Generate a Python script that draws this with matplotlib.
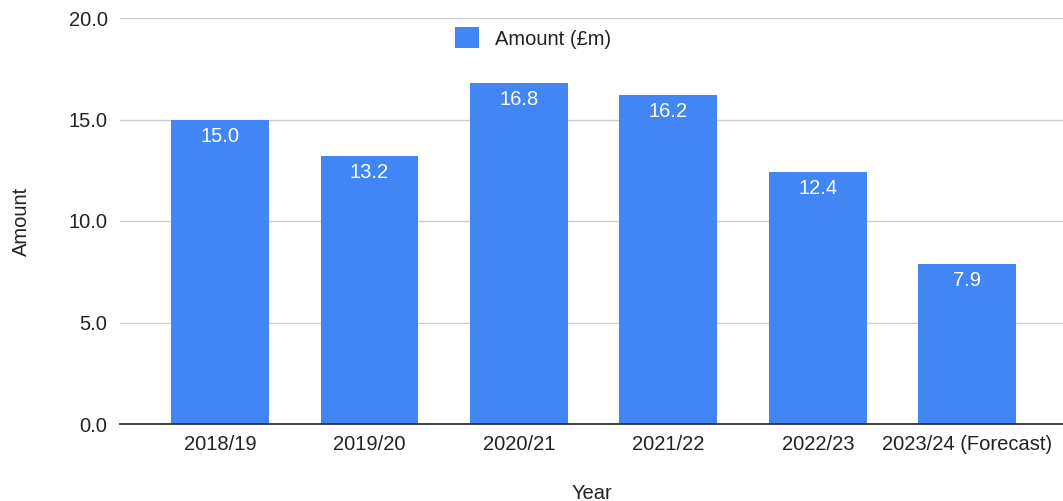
import matplotlib.pyplot as plt

plt.rcParams['font.family'] = ['Liberation Sans', 'DejaVu Sans']

years = ['2018/19', '2019/20', '2020/21', '2021/22', '2022/23', '2023/24 (Forecast)']
amounts = [15.0, 13.2, 16.8, 16.2, 12.4, 7.9]

blue = '#4285f4'
fs = 14.5

fig = plt.figure(figsize=(10.63, 5.01), dpi=100)
ax = fig.add_axes([120 / 1063, 77 / 501, 943 / 1063, 406 / 501])

x = range(len(years))
bars = ax.bar(x, amounts, width=0.655, color=blue, label='Amount (£m)', zorder=3)

# value labels inside top of each bar
for xi, v in zip(x, amounts):
    ax.annotate(f'{v:.1f}', (xi, v), xytext=(0, -12), textcoords='offset points',
                ha='center', va='center', color='white', fontsize=fs, zorder=4)

ax.set_xlim(-0.669, 5.64)
ax.set_ylim(0, 20)
ax.set_yticks([0, 5, 10, 15, 20])
ax.set_yticklabels([f'{t:.1f}' for t in [0, 5, 10, 15, 20]])
ax.set_xticks(list(x))
ax.set_xticklabels(years)

ax.grid(axis='y', color='#cccccc', linewidth=1, zorder=0)
for s in ['top', 'right', 'left']:
    ax.spines[s].set_visible(False)
ax.spines['bottom'].set_color('#333333')
ax.spines['bottom'].set_linewidth(1.3)
ax.spines['bottom'].set_zorder(5)
ax.tick_params(axis='both', length=0, labelsize=fs, colors='#222222')
ax.tick_params(axis='y', pad=9)
ax.tick_params(axis='x', pad=8)

ax.set_ylabel('Amount', fontsize=fs, color='#222222')
ax.yaxis.set_label_coords(-0.094, 0.5)
ax.set_xlabel('Year', fontsize=fs, color='#222222')
ax.xaxis.set_label_coords(0.5, -0.147)

ax.legend(loc='center', bbox_to_anchor=(413 / 943, 1 - 20 / 406), frameon=False,
          fontsize=fs, handlelength=1.2, handleheight=1.2, handletextpad=0.8,
          labelcolor='#222222')

fig.savefig('out.png')
